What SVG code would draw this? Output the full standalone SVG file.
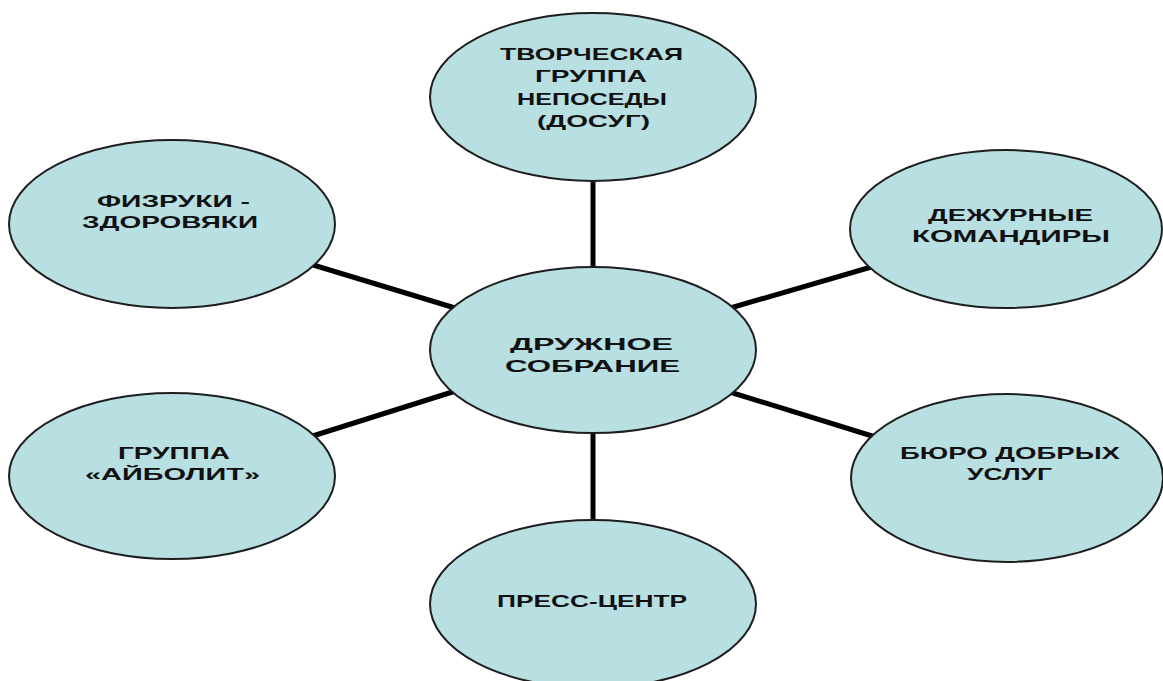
<svg xmlns="http://www.w3.org/2000/svg" width="1163" height="681" viewBox="0 0 1163 681">
<style>
.n{fill:#b8dfe2;stroke:#1e1e1e;stroke-width:2}
.c{stroke:#000;stroke-width:5;fill:none}
.t{font-family:"Liberation Sans","DejaVu Sans",sans-serif;font-weight:700;font-size:17px;fill:#111;text-anchor:start}
</style>
<rect width="1163" height="681" fill="#fff"/>
<g id="connectors">
<line class="c" x1="593" y1="170" x2="593" y2="280"/>
<line class="c" x1="593" y1="420" x2="593" y2="530"/>
<line class="c" x1="300" y1="261" x2="465" y2="311"/>
<line class="c" x1="300" y1="440" x2="465" y2="388"/>
<line class="c" x1="720" y1="311" x2="885" y2="263"/>
<line class="c" x1="720" y1="389" x2="885" y2="440"/>
</g>
<g id="node-top">
<ellipse class="n" cx="593" cy="97" rx="163" ry="84"/>
<text class="t" x="500" y="60" textLength="183" lengthAdjust="spacingAndGlyphs">ТВОРЧЕСКАЯ</text>
<text class="t" x="535" y="82" textLength="112" lengthAdjust="spacingAndGlyphs">ГРУППА</text>
<text class="t" x="517" y="105" textLength="150" lengthAdjust="spacingAndGlyphs">НЕПОСЕДЫ</text>
<text class="t" x="537" y="127" textLength="113" lengthAdjust="spacingAndGlyphs">(ДОСУГ)</text>
</g>
<g id="node-left-top">
<ellipse class="n" cx="172" cy="224" rx="163" ry="84"/>
<text class="t" x="97" y="207" textLength="153" lengthAdjust="spacingAndGlyphs">ФИЗРУКИ -</text>
<text class="t" x="82" y="228" textLength="176" lengthAdjust="spacingAndGlyphs">ЗДОРОВЯКИ</text>
</g>
<g id="node-right-top">
<ellipse class="n" cx="1006" cy="229" rx="156" ry="79"/>
<text class="t" x="928" y="221" textLength="165" lengthAdjust="spacingAndGlyphs">ДЕЖУРНЫЕ</text>
<text class="t" x="912" y="242" textLength="198" lengthAdjust="spacingAndGlyphs">КОМАНДИРЫ</text>
</g>
<g id="node-center">
<ellipse class="n" cx="593" cy="350" rx="163" ry="83"/>
<text class="t" x="510" y="350" textLength="163" lengthAdjust="spacingAndGlyphs">ДРУЖНОЕ</text>
<text class="t" x="505" y="372" textLength="175" lengthAdjust="spacingAndGlyphs">СОБРАНИЕ</text>
</g>
<g id="node-left-bottom">
<ellipse class="n" cx="172" cy="476" rx="163" ry="83"/>
<text class="t" x="118" y="459" textLength="112" lengthAdjust="spacingAndGlyphs">ГРУППА</text>
<text class="t" x="85" y="480" textLength="175" lengthAdjust="spacingAndGlyphs">«АЙБОЛИТ»</text>
</g>
<g id="node-right-bottom">
<ellipse class="n" cx="1007" cy="478" rx="156" ry="84"/>
<text class="t" x="900" y="459" textLength="220" lengthAdjust="spacingAndGlyphs">БЮРО ДОБРЫХ</text>
<text class="t" x="967" y="480" textLength="85" lengthAdjust="spacingAndGlyphs">УСЛУГ</text>
</g>
<g id="node-bottom">
<ellipse class="n" cx="593" cy="604" rx="163" ry="84"/>
<text class="t" x="497" y="607" textLength="190" lengthAdjust="spacingAndGlyphs">ПРЕСС-ЦЕНТР</text>
</g>
</svg>
